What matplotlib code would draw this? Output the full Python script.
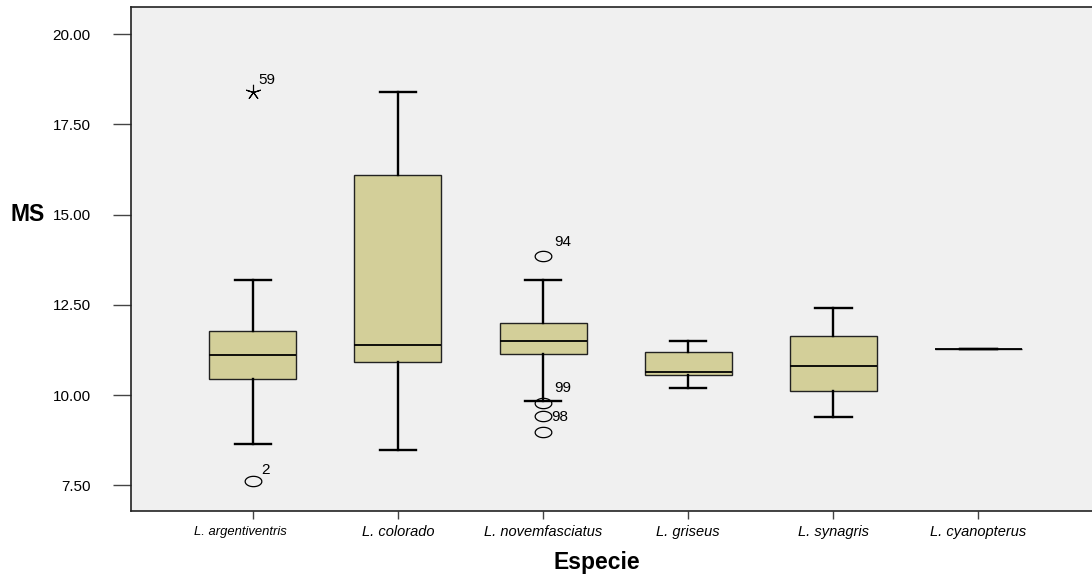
import matplotlib
matplotlib.use("Agg")
import matplotlib.pyplot as plt
from matplotlib.path import Path
import numpy as np

plt.rcParams["font.family"] = ["Liberation Sans", "DejaVu Sans"]

species = ["L. argentiventris", "L. colorado", "L. novemfasciatus",
           "L. griseus", "L. synagris", "L. cyanopterus"]

whisker_low = [8.64, 8.48, 9.83, 10.19, 9.39, 11.27]
q1 = [10.44, 10.91, 11.14, 10.55, 10.11, 11.27]
median = [11.11, 11.39, 11.50, 10.64, 10.80, 11.27]
q3 = [11.77, 16.09, 11.99, 11.19, 11.63, 11.27]
whisker_high = [13.19, 18.39, 13.19, 11.50, 12.41, 11.27]

# outliers: (species index, value, case label)
outlier_species = [0, 2, 2, 2, 2]
outlier_values = [7.62, 13.85, 9.78, 9.42, 8.98]
outlier_labels = ["2", "94", "99", "98", ""]

extreme_species = [0]
extreme_values = [18.39]
extreme_labels = ["59"]

y_ticks = [7.5, 10.0, 12.5, 15.0, 17.5, 20.0]

BOX_COLOR = "#D3CF99"
BG_COLOR = "#F0F0F0"

fig = plt.figure(figsize=(10.92, 5.79), dpi=100)
ax = fig.add_axes([0.12, 0.1174, 0.88, 0.8705])
ax.set_facecolor(BG_COLOR)

positions = np.arange(len(species))
stats = []
for i, name in enumerate(species):
    stats.append({
        "label": name,
        "whislo": whisker_low[i],
        "q1": q1[i],
        "med": median[i],
        "q3": q3[i],
        "whishi": whisker_high[i],
        "fliers": [],
    })

ax.bxp(
    stats,
    positions=positions,
    widths=0.6,
    patch_artist=True,
    showfliers=False,
    boxprops=dict(facecolor=BOX_COLOR, edgecolor="#222222", linewidth=1.0),
    medianprops=dict(color="black", linewidth=1.3),
    whiskerprops=dict(color="black", linewidth=1.7),
    capprops=dict(color="black", linewidth=1.7),
    capwidths=0.255,
)

# ellipse marker like the SPSS outlier symbol
theta = np.linspace(0, 2 * np.pi, 60)
ellipse = Path(np.column_stack([np.cos(theta), 0.62 * np.sin(theta)]))

ax.plot(positions[outlier_species], outlier_values, linestyle="none",
        marker=ellipse, markersize=12, markerfacecolor="none",
        markeredgecolor="black", markeredgewidth=0.9)
ax.plot(positions[extreme_species], extreme_values, linestyle="none",
        marker=(5, 2, 0), markersize=11, markeredgecolor="black",
        markeredgewidth=0.8)

label_offsets = {"2": (6, 8), "94": (8, 10), "99": (8, 11), "98": (6, -1), "59": (4, 9)}
for idx, val, lab in zip(outlier_species + extreme_species,
                         outlier_values + extreme_values,
                         outlier_labels + extreme_labels):
    if not lab:
        continue
    ax.annotate(lab, (positions[idx], val), xytext=label_offsets[lab],
                textcoords="offset points", ha="left", va="center", fontsize=11)

ax.set_xlim(-0.841, 5.786)
ax.set_ylim(6.79, 20.75)
ax.set_yticks(y_ticks)
ax.set_yticklabels([f"{v:.2f}" for v in y_ticks], fontsize=11)
ax.set_xticks(positions)
# the first species label sits a bit left of its tick and smaller in the original
ax.set_xticklabels([""] + species[1:], fontsize=10.5, style="italic")
ax.annotate(species[0], (positions[0], 0), xycoords=ax.get_xaxis_transform(),
            xytext=(-9.4, -10.5), textcoords="offset points",
            ha="center", va="top", fontsize=9.4, style="italic")

ax.tick_params(axis="y", direction="out", length=13, width=1.0, color="#444444", pad=16)
ax.tick_params(axis="x", direction="out", length=6, width=1.0, color="#444444", pad=4)

for side in ["left", "bottom", "top"]:
    ax.spines[side].set_color("#222222")
    ax.spines[side].set_linewidth(1.2)
ax.spines["right"].set_visible(False)

fig.text(28 / 1092, 1 - 214 / 579, "MS", fontsize=16.5, fontweight="bold",
         ha="center", va="center")
fig.text(597 / 1092, 1 - 563 / 579, "Especie", fontsize=16.5, fontweight="bold",
         ha="center", va="center")

fig.savefig("out.png", dpi=100, facecolor="white")
